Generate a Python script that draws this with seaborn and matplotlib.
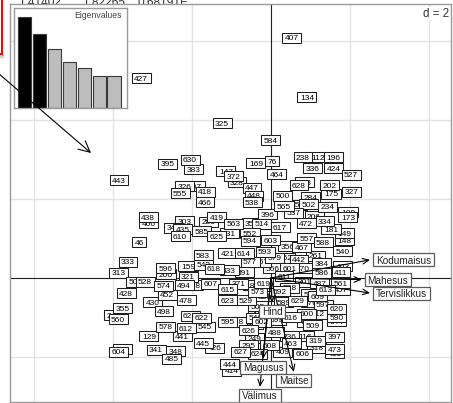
import matplotlib
matplotlib.use("Agg")
import matplotlib.pyplot as plt
import matplotlib.transforms as mtransforms
from matplotlib.patches import Rectangle, FancyArrowPatch
import numpy as np
import pandas as pd
import seaborn as sns

plt.rcParams["font.family"] = ["Liberation Sans", "DejaVu Sans"]

# ---- row scores on the first two principal axes ----
row_names = [
    "407", "134", "427", "325", "584", "76", "169", "464", "238", "112",
    "196", "336", "424", "527", "628", "228", "202", "175", "327", "500",
    "565", "502", "154", "284", "234", "173", "109", "396", "537", "617",
    "472", "206", "334", "181", "149", "148", "557", "588", "540", "603",
    "593", "356", "467", "442", "411", "403", "561", "457", "586", "487",
    "566", "558", "539", "376", "629", "520", "616", "600", "412", "620",
    "590", "544", "488", "116", "236", "319", "318", "397", "473", "413",
    "606", "409", "463", "627", "624", "444", "414", "295", "249", "445",
    "426", "595", "518", "545", "622", "621", "612", "441", "578", "129",
    "604", "504", "341", "348", "485", "498", "452", "574", "494", "478",
    "528", "506", "428", "313", "333", "355", "560", "242", "430", "596",
    "200", "159", "321", "218", "583", "543", "618", "607", "615", "623",
    "433", "391", "614", "421", "594", "625", "419", "563", "350", "552",
    "531", "610", "303", "435", "343", "585", "280", "538", "447", "448",
    "418", "466", "555", "326", "307", "372", "328", "147", "395", "630",
    "383", "443", "438", "406", "46", "514", "611", "619", "261", "384",
    "439", "546", "290", "529", "579", "592", "505", "262", "470", "301",
    "182", "371", "509", "490", "567", "577", "601", "573", "589", "602",
    "609", "613", "597", "599", "608", "626",
]
row_x = [
    0.53, 0.91, -3.29, -1.24, 0.00, 0.03, -0.38, 0.15, 0.81, 1.19,
    1.59, 1.06, 1.59, 2.03, 0.71, 0.86, 1.49, 1.52, 2.03, 0.30,
    0.33, 0.96, 0.68, 1.01, 1.44, 1.95, 1.95, -0.08, 0.58, 0.23,
    0.89, 1.09, 1.37, 1.52, 1.85, 1.85, 0.91, 1.32, 1.82, 0.00,
    -0.15, 0.43, 0.78, 0.71, 1.77, 1.82, 1.77, 1.77, 1.29, 1.24,
    0.03, 0.48, 1.01, 1.01, 0.68, -0.15, 0.51, 0.91, 1.19, 1.67,
    1.67, 1.67, 0.10, 0.86, 0.46, 1.14, 1.16, 1.62, 1.62, 1.62,
    0.81, 0.30, 0.51, -0.78, -0.35, -1.04, -0.99, -0.56, -0.41, -1.72,
    -1.42, -1.09, -0.86, -1.67, -1.77, -2.05, -2.15, -2.25, -2.68, -3.09,
    -3.85, -3.77, -2.91, -2.41, -2.51, -2.71, -2.63, -2.71, -2.20, -2.15,
    -3.19, -3.42, -3.67, -3.87, -3.62, -3.75, -3.87, -4.00, -2.99, -2.66,
    -2.66, -2.10, -2.10, -1.97, -1.72, -1.70, -1.44, -1.54, -1.09, -1.09,
    -1.06, -0.68, -0.68, -1.09, -0.53, -1.37, -1.37, -0.94, -0.48, -0.53,
    -1.06, -2.30, -2.18, -2.23, -2.46, -1.75, -1.57, -0.48, -0.48, -0.43,
    -1.67, -1.67, -2.30, -2.18, -1.92, -0.94, -0.86, -1.14, -2.61, -2.05,
    -1.97, -3.85, -3.11, -3.09, -3.34, -0.23, 0.33, -0.18, 1.14, 1.29,
    -0.43, -0.38, -0.35, -0.63, 0.10, 0.23, -0.33, 0.38, 0.81, 0.86,
    -0.48, -0.81, 1.06, 0.89, -0.23, -0.53, 0.48, -0.33, 0.33, -0.23,
    1.19, 1.39, 1.32, 0.15, -0.03, -0.58,
]
row_y = [
    6.08, 4.58, 5.06, 3.92, 3.49, 2.96, 2.91, 2.63, 3.06, 3.06,
    3.06, 2.78, 2.78, 2.61, 2.35, 2.43, 2.35, 2.13, 2.18, 2.08,
    1.82, 1.87, 1.85, 2.05, 1.80, 1.54, 1.67, 1.62, 1.65, 1.29,
    1.39, 1.57, 1.44, 1.24, 1.14, 0.96, 1.01, 0.91, 0.68, 0.96,
    0.66, 0.81, 0.78, 0.46, 0.15, 0.30, -0.13, -0.30, 0.13, -0.13,
    0.25, -0.25, -0.41, -0.61, -0.58, -0.46, -0.99, -0.91, -0.91, -0.78,
    -0.99, -1.09, -1.37, -1.47, -1.47, -1.59, -1.77, -1.49, -1.80, -1.90,
    -1.92, -1.87, -1.65, -1.87, -1.92, -2.18, -2.35, -1.70, -1.52, -1.65,
    -1.77, -1.11, -1.11, -1.24, -1.01, -0.96, -1.27, -1.47, -1.24, -1.47,
    -1.87, -1.80, -1.82, -1.85, -2.05, -0.84, -0.43, -0.20, -0.18, -0.56,
    -0.10, -0.10, -0.38, 0.13, 0.41, -0.76, -1.04, -0.94, -0.61, 0.25,
    0.10, 0.30, 0.03, -0.18, 0.58, 0.33, 0.23, -0.15, -0.28, -0.56,
    0.20, 0.15, 0.63, 0.63, 0.94, 1.06, 1.54, 1.37, 1.39, 1.14,
    1.14, 1.06, 1.44, 1.24, 1.27, 1.19, 1.42, 1.92, 2.28, 2.08,
    2.18, 1.92, 2.15, 2.33, 2.33, 2.58, 2.43, 2.71, 2.89, 2.99,
    2.76, 2.48, 1.54, 1.39, 0.91, 1.37, 0.05, -0.13, 0.56, 0.38,
    -1.16, -1.01, -0.89, -0.56, 0.51, -0.33, -0.71, 0.51, 0.25, -0.10,
    -0.18, -0.15, -1.19, -1.11, 0.41, 0.41, 0.25, -0.35, -0.61, -1.11,
    -0.46, -0.30, -0.68, -1.06, -1.70, -1.32,
]

# ---- variable loadings (arrows) ----
var_names = ["Kodumaisus", "Mahesus", "Tervislikkus", "Hind", "Magusus", "Maitse", "Välimus"]
var_x = [2.51, 2.30, 2.51, 0.03, -0.20, 0.58, -0.28]
var_y = [0.46, -0.04, -0.38, -0.63, -2.05, -2.38, -2.76]

# ---- eigenvalues for the inset ----
eigenvalues = [1.70, 1.39, 1.10, 0.86, 0.75, 0.60, 0.60]
n_kept = 2

grid_step = 2
header_values = ["1.41402", "1.82265", "0.68191E"]

W, H = 453, 403
DPI = 100
fig = plt.figure(figsize=(W / DPI, H / DPI), dpi=DPI)
fig.patch.set_facecolor("white")

ax = fig.add_axes([10 / W, 1 / H, 441 / W, 398 / H])
sns.scatterplot(x=row_x, y=row_y, ax=ax, s=3, color="black", linewidth=0,
                zorder=2.5, legend=False)
xlim = (-6.61, 4.56)
ylim = (-3.14, 6.94)
ax.set_xlim(*xlim)
ax.set_ylim(*ylim)
ax.set_xticks([])
ax.set_yticks([])
ax.set_xlabel("")
ax.set_ylabel("")
for sp in ax.spines.values():
    sp.set_color("#9a9a9a")
    sp.set_linewidth(1.0)

# grid at multiples of d
gx = np.arange(np.ceil(xlim[0] / grid_step) * grid_step, xlim[1], grid_step)
gy = np.arange(np.ceil(ylim[0] / grid_step) * grid_step, ylim[1], grid_step)
for v in gx:
    if v != 0:
        ax.axvline(v, color="#e3e3e3", lw=1.0, zorder=0.5)
for v in gy:
    if v != 0:
        ax.axhline(v, color="#e3e3e3", lw=1.0, zorder=0.5)
ax.axhline(0, color="#202020", lw=0.8, zorder=1)
ax.axvline(0, color="#202020", lw=0.8, zorder=1)

ax.text(0.995, 0.975, "d = %d" % grid_step, transform=ax.transAxes, ha="right",
        va="center", fontsize=8.3, color="#333333", zorder=20,
        bbox=dict(boxstyle="square,pad=0.1", fc="white", ec="none"))

# ---- row labels in boxes, drawn in row order ----
order = np.argsort([int(n) for n in row_names], kind="stable")
row_texts = []
for rank, i in enumerate(order):
    z = 3 + rank * 0.002
    t = ax.text(row_x[i], row_y[i], row_names[i], ha="center", va="center_baseline",
                fontsize=6, color="black", zorder=z + 0.001)
    row_texts.append((t, row_x[i], row_y[i], z))

# ---- variable arrows ----
var_texts = []
for k, (name, x, y) in enumerate(zip(var_names, var_x, var_y)):
    arr = FancyArrowPatch((0, 0), (x, y), arrowstyle="->,head_length=0.45,head_width=0.2",
                          mutation_scale=10, lw=0.8, color="black", zorder=8,
                          shrinkA=0, shrinkB=0)
    ax.add_patch(arr)
    t = ax.annotate(name, xy=(x, y), xytext=(0, 0), textcoords="offset pixels",
                    ha="center", va="center_baseline", fontsize=7.2, color="#222222",
                    zorder=11 + k * 0.01 + 0.005, annotation_clip=False)
    var_texts.append((t, x, y, 11 + k * 0.01))

fig.canvas.draw()
renderer = fig.canvas.get_renderer()

def point_trans(x, y):
    return fig.dpi_scale_trans + mtransforms.ScaledTranslation(x, y, ax.transData)

for t, x, y, z in row_texts:
    bb = t.get_window_extent(renderer)
    w = bb.width + 5
    h = 10
    ax.add_patch(Rectangle((-w / 2 / DPI, -h / 2 / DPI), w / DPI, h / DPI,
                           transform=point_trans(x, y), fc="white", ec="#1e1e1e",
                           lw=0.75, zorder=z))

for t, x, y, z in var_texts:
    bb = t.get_window_extent(renderer)
    space = 0.278 * 7.2 * DPI / 72
    w = bb.width + 2 * space
    h = 13
    if x > abs(y):
        ox, oy = 3 + w / 2, 0
    elif y <= -abs(x):
        ox, oy = 0, -(2 + h / 2)
    elif x < -abs(y):
        ox, oy = -(3 + w / 2), 0
    else:
        ox, oy = 0, 2 + h / 2
    t.xyann = (ox, oy)
    ax.add_patch(Rectangle(((ox - w / 2) / DPI, (oy - h / 2) / DPI), w / DPI, h / DPI,
                           transform=point_trans(x, y), fc="white", ec="#5a5a5a",
                           lw=0.9, zorder=z))

# ---- eigenvalue inset ----
ins = fig.add_axes([14 / W, 1 - 108 / H, 113 / W, 100 / H])
eig_df = pd.DataFrame({
    "axis": [str(i + 1) for i in range(len(eigenvalues))],
    "eig": eigenvalues,
    "kept": ["kept" if i < n_kept else "other" for i in range(len(eigenvalues))],
})
sns.barplot(data=eig_df, x="axis", y="eig", hue="kept",
            palette={"kept": "black", "other": "#bdbdbd"}, dodge=False, width=0.9,
            edgecolor="#3a3a3a", linewidth=0.8, ax=ins, legend=False)
ins.set_xlim(-0.72, 6.86)
ins.set_ylim(0, max(eigenvalues) * 100 / 91)
ins.set_xticks([])
ins.set_yticks([])
ins.set_xlabel("")
ins.set_ylabel("")
ins.set_facecolor("white")
for sp in ins.spines.values():
    sp.set_color("#9a9a9a")
    sp.set_linewidth(1.0)
ins.text(0.956, 0.93, "Eigenvalues", transform=ins.transAxes, ha="right", va="center",
         fontsize=6.2, color="#444444")

# ---- header values along the top edge, partly hidden behind the panel ----
for xpos, s in zip([18, 82, 138], header_values):
    fig.text(xpos / W, 1 - 6 / H, s, ha="left", va="baseline", fontsize=8.6,
             color="#333333", zorder=-1)

# ---- pointer and frame marker at the top left ----
fig.add_artist(Rectangle((-10 / W, 1 - 54 / H), 12 / W, 70 / H, transform=fig.transFigure,
                         fill=False, ec="red", lw=1.5, clip_on=False))
fig.add_artist(Rectangle((0, 1 - 58 / H), 4 / W, 3 / H, transform=fig.transFigure,
                         fc="#cfcfcf", ec="none"))
fig.add_artist(FancyArrowPatch((-2 / W, 1 - 73 / H), (91 / W, 1 - 153 / H),
                               transform=fig.transFigure,
                               arrowstyle="->,head_length=0.8,head_width=0.4",
                               mutation_scale=10, lw=0.8, color="black",
                               shrinkA=0, shrinkB=0))

fig.savefig("out.png", dpi=DPI)
